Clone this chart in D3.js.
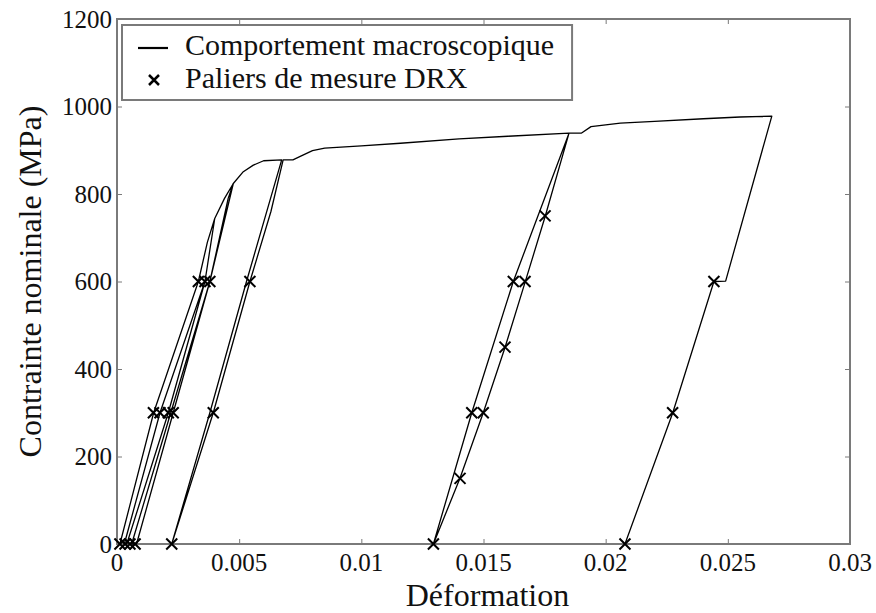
<!DOCTYPE html>
<html>
<head>
<meta charset="utf-8">
<script src="https://cdn.jsdelivr.net/npm/d3@7"></script>
<style>
  body { margin: 0; background: #fff; }
  text { font-family: "Liberation Serif", "Times New Roman", serif; }
</style>
</head>
<body>
<script>
var width = 876, height = 613;
var margin = { top: 19, right: 26, bottom: 69, left: 117 };

// macroscopic curve (loading / unloading cycles), strain and stress in MPa
var curveStrain = [
  0.00012, 0.0015, 0.00333, 0.0037, 0.0040,
  0.0036, 0.00176, 0.0003,
  0.0004, 0.0021, 0.0036, 0.0040, 0.0044, 0.00476,
  0.0038, 0.0022, 0.0006,
  0.0008, 0.0023, 0.0038, 0.00455, 0.00476, 0.00517, 0.00558, 0.0060, 0.00674,
  0.0053, 0.0038, 0.00224,
  0.00224, 0.00394, 0.00544, 0.0063, 0.0068, 0.0072, 0.0075, 0.0080, 0.0085,
  0.0100, 0.0116, 0.0140, 0.0160, 0.0185,
  0.01622, 0.01452, 0.01295,
  0.01404, 0.01499, 0.01588, 0.0167, 0.01752, 0.0185, 0.0190, 0.0194, 0.0200,
  0.0206, 0.0220, 0.0240, 0.0255, 0.0268,
  0.02491, 0.02443, 0.02274, 0.02079
];
var curveStress = [
  0, 300, 600, 690, 744,
  600, 300, 0,
  0, 300, 600, 744, 790, 824,
  600, 300, 0,
  0, 300, 600, 790, 824, 851, 866, 876, 878,
  600, 300, 0,
  0, 300, 600, 760, 878, 878, 886, 899, 905,
  910, 916, 926, 932, 939,
  600, 300, 0,
  151, 300, 449, 598, 748, 939, 939, 954, 958,
  962, 966, 972, 976, 978,
  601, 600, 299, 0
];

// XRD measurement steps
var markerStrain = [0.00012, 0.00033, 0.00053, 0.00074, 0.00224, 0.01295, 0.02079,
                    0.00149, 0.00176, 0.0021, 0.0023, 0.00394, 0.01452, 0.01499, 0.02274,
                    0.00333, 0.0036, 0.0038, 0.00544, 0.01622, 0.0167, 0.02443,
                    0.01404, 0.01588, 0.01752];
var markerStress = [0, 0, 0, 0, 0, 0, 0,
                    300, 300, 300, 300, 300, 300, 300, 300,
                    600, 600, 600, 600, 600, 600, 600,
                    150, 450, 750];

var xTicks = [0, 0.005, 0.01, 0.015, 0.02, 0.025, 0.03];
var xTickLabels = ["0", "0.005", "0.01", "0.015", "0.02", "0.025", "0.03"];
var yTicks = [0, 200, 400, 600, 800, 1000, 1200];
var legendLabels = ["Comportement macroscopique", "Paliers de mesure DRX"];

var svg = d3.select("body").append("svg")
  .attr("width", width)
  .attr("height", height);

var x = d3.scaleLinear().domain([0, 0.03]).range([margin.left, width - margin.right]);
var y = d3.scaleLinear().domain([0, 1200]).range([height - margin.bottom, margin.top]);

var axisColor = "#7a7a7a";

// inward ticks on all four sides
svg.append("g")
  .attr("transform", "translate(0," + y(0) + ")")
  .call(d3.axisTop(x).tickValues(xTicks).tickSize(5).tickFormat(""))
  .call(function(g) { g.select(".domain").remove(); });
svg.append("g")
  .attr("transform", "translate(0," + y(1200) + ")")
  .call(d3.axisBottom(x).tickValues(xTicks).tickSize(5).tickFormat(""))
  .call(function(g) { g.select(".domain").remove(); });
svg.append("g")
  .attr("transform", "translate(" + x(0) + ",0)")
  .call(d3.axisRight(y).tickValues(yTicks).tickSize(5).tickFormat(""))
  .call(function(g) { g.select(".domain").remove(); });
svg.append("g")
  .attr("transform", "translate(" + x(0.03) + ",0)")
  .call(d3.axisLeft(y).tickValues(yTicks).tickSize(5).tickFormat(""))
  .call(function(g) { g.select(".domain").remove(); });
svg.selectAll(".tick line").attr("stroke", axisColor).attr("stroke-width", 1);

// tick labels
svg.append("g").selectAll("text").data(xTicks)
  .enter().append("text")
  .attr("x", function(d) { return x(d); })
  .attr("y", y(0) + 27)
  .attr("text-anchor", "middle")
  .attr("font-size", 25)
  .attr("fill", "#111")
  .text(function(d, i) { return xTickLabels[i]; });
svg.append("g").selectAll("text").data(yTicks)
  .enter().append("text")
  .attr("x", x(0) - 5)
  .attr("y", function(d) { return y(d) + 8.5; })
  .attr("text-anchor", "end")
  .attr("font-size", 25)
  .attr("fill", "#111")
  .text(function(d) { return d; });

// frame
svg.append("rect")
  .attr("x", x(0)).attr("y", y(1200))
  .attr("width", x(0.03) - x(0)).attr("height", y(0) - y(1200))
  .attr("fill", "none").attr("stroke", axisColor).attr("stroke-width", 2);

// curve
var pts = curveStrain.map(function(d, i) { return [d, curveStress[i]]; });
var line = d3.line().x(function(d) { return x(d[0]); }).y(function(d) { return y(d[1]); });
svg.append("path")
  .datum(pts)
  .attr("d", line)
  .attr("fill", "none")
  .attr("stroke", "#000")
  .attr("stroke-width", 1.3)
  .attr("stroke-linejoin", "round");

// markers
var ms = 5.5;
svg.append("g").selectAll("path")
  .data(markerStrain.map(function(d, i) { return [d, markerStress[i]]; }))
  .enter().append("path")
  .attr("transform", function(d) { return "translate(" + x(d[0]) + "," + y(d[1]) + ")"; })
  .attr("d", "M" + (-ms) + "," + (-ms) + "L" + ms + "," + ms + "M" + (-ms) + "," + ms + "L" + ms + "," + (-ms))
  .attr("stroke", "#000")
  .attr("stroke-width", 2);

// legend
var lg = svg.append("g").attr("transform", "translate(122,25)");
var lgText = lg.selectAll("text.lab").data(legendLabels)
  .enter().append("text")
  .attr("class", "lab")
  .attr("x", 63)
  .attr("y", function(d, i) { return 30 + i * 33; })
  .attr("font-size", 30)
  .attr("fill", "#111")
  .text(function(d) { return d; });
var lgw = d3.max(lgText.nodes(), function(n) { return n.getComputedTextLength(); });
lg.insert("rect", "text")
  .attr("width", 63 + lgw + 18).attr("height", 75)
  .attr("fill", "#fff").attr("stroke", axisColor).attr("stroke-width", 2);
lg.append("line")
  .attr("x1", 16).attr("x2", 46).attr("y1", 23).attr("y2", 23)
  .attr("stroke", "#000").attr("stroke-width", 2.2);
lg.append("path")
  .attr("transform", "translate(32,55)")
  .attr("d", "M-5,-5L5,5M-5,5L5,-5")
  .attr("stroke", "#000").attr("stroke-width", 2.5);

// axis titles
svg.append("text")
  .attr("x", (x(0) + x(0.03)) / 2 + 4)
  .attr("y", 606)
  .attr("text-anchor", "middle")
  .attr("font-size", 32)
  .attr("fill", "#111")
  .text("Déformation");
svg.append("text")
  .attr("transform", "translate(41," + ((y(0) + y(1200)) / 2) + ") rotate(-90)")
  .attr("text-anchor", "middle")
  .attr("font-size", 32)
  .attr("fill", "#111")
  .text("Contrainte nominale (MPa)");
</script>
</body>
</html>
